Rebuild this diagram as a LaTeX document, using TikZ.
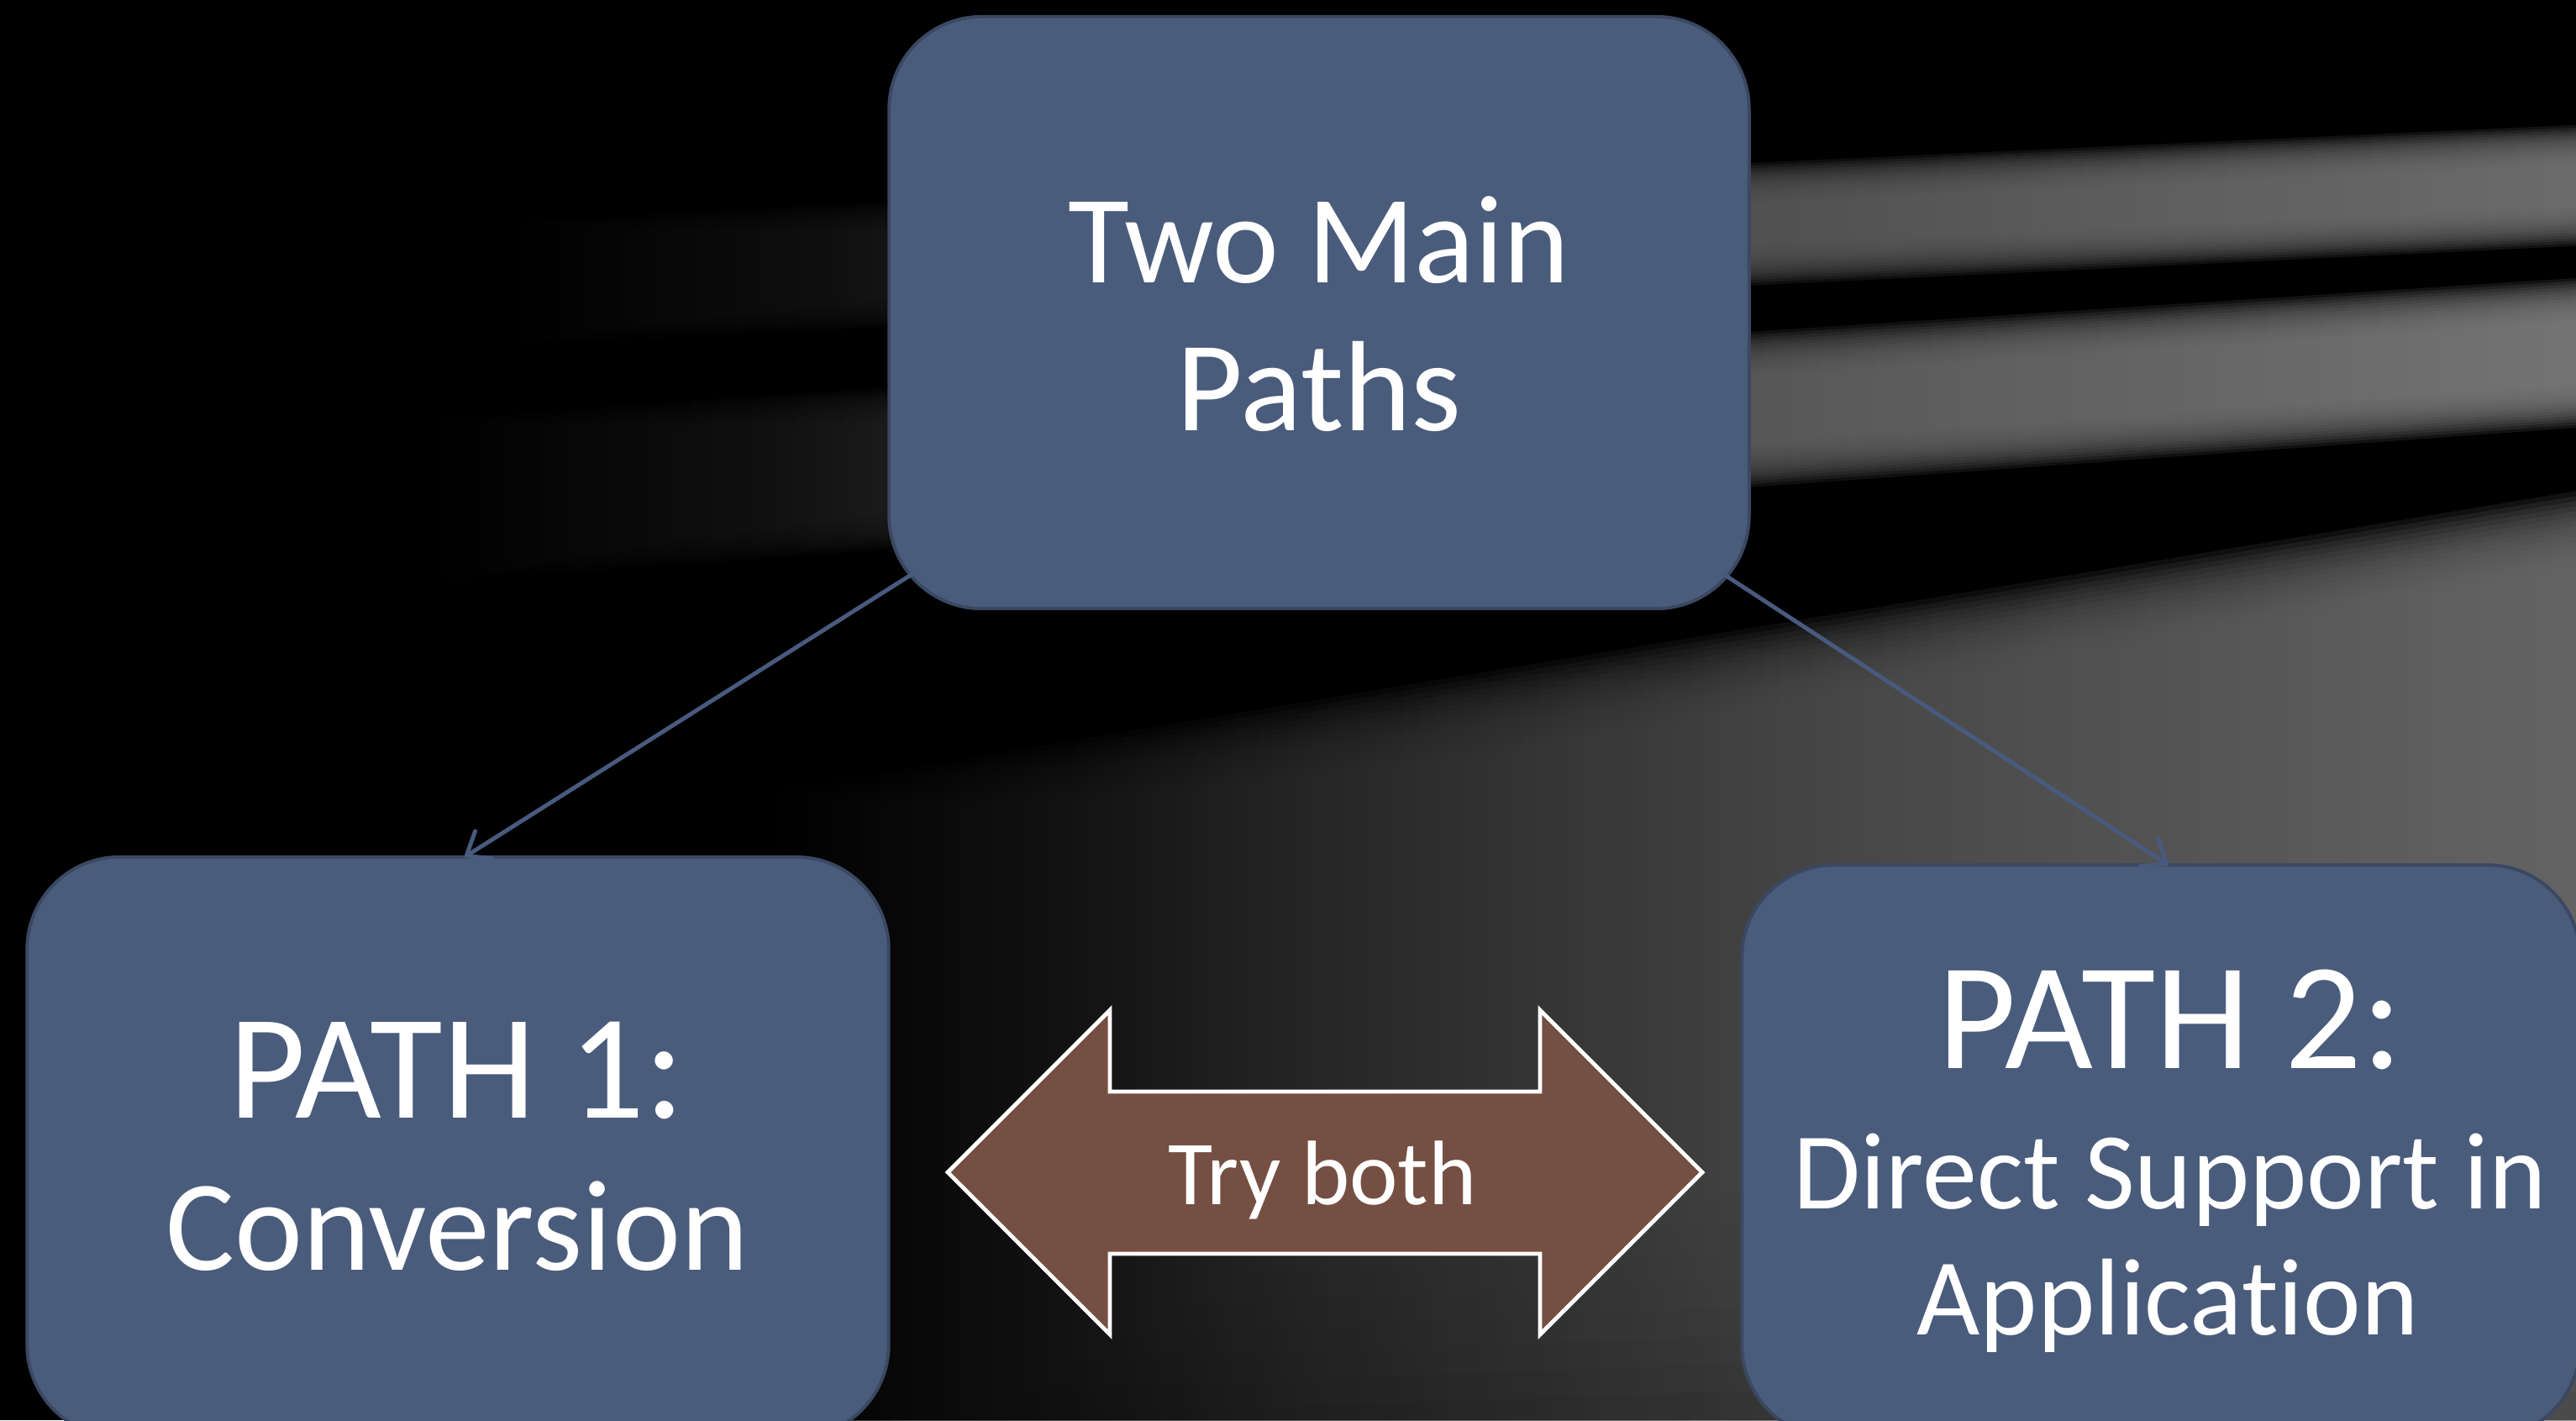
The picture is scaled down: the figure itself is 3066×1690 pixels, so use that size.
\documentclass[tikz,border=0pt]{standalone}
\usepackage{fontspec}
\setmainfont{Carlito}[Ligatures=NoCommon]
\usetikzlibrary{arrows.meta,calc}

\definecolor{boxblue}{RGB}{74,92,124}
\definecolor{boxedge}{RGB}{58,72,98}
\definecolor{linkblue}{RGB}{72,90,126}
\definecolor{arrowbrown}{RGB}{117,79,66}
\definecolor{rayA}{RGB}{118,118,118}
\definecolor{rayB}{RGB}{126,126,126}
\definecolor{rayC}{RGB}{110,110,110}

\pgfdeclarehorizontalshading{rayAsh}{100bp}{color(0bp)=(black); color(25bp)=(black); color(32.5bp)=(rayA!3!black); color(40bp)=(rayA!18!black); color(45bp)=(rayA!36!black); color(58bp)=(rayA!75!black); color(75bp)=(rayA); color(100bp)=(rayA)}
\pgfdeclarehorizontalshading{rayBsh}{100bp}{color(0bp)=(black); color(25bp)=(black); color(32.5bp)=(rayB!3!black); color(40bp)=(rayB!18!black); color(45bp)=(rayB!36!black); color(58bp)=(rayB!75!black); color(75bp)=(rayB); color(100bp)=(rayB)}
\pgfdeclarehorizontalshading{rayCsh}{100bp}{color(0bp)=(black); color(25bp)=(black); color(32.5bp)=(rayC!4!black); color(40bp)=(rayC!22!black); color(45bp)=(rayC!38!black); color(58bp)=(rayC!72!black); color(75bp)=(rayC); color(100bp)=(rayC)}

\tikzset{
  box/.style={draw=boxedge, line width=1.1pt, fill=boxblue, rounded corners=1.1cm, inner sep=0pt, outer sep=0pt},
  lbl/.style={text=white, anchor=base, inner sep=0pt, outer sep=0pt},
  conn/.style={draw=linkblue, line width=1.4pt, -{Straight Barb[length=7pt,width=11pt,round]}},
  dblarrow/.style={draw=white, line width=1.4pt, fill=arrowbrown, line join=miter},
  raylayer/.style={opacity=0.16, shading=#1}
}

\begin{document}
\begin{tikzpicture}[x=0.01cm, y=-0.01cm]
\useasboundingbox (0,0) rectangle (3066,1690);
\clip (0,0) rectangle (3066,1690);
\fill[black] (0,0) rectangle (3066,1690);

% background light rays (soft edged by stacked layers)
\foreach \k in {0,...,15}{
  % lower broad region
  \shade[raylayer=rayCsh] (500,{1010+\k*7}) -- (3080,{582+\k*6}) -- (3080,{1900-\k*35}) -- (500,{1950-\k*30}) -- cycle;
  % band B
  \shade[raylayer=rayBsh] (0,{530+\k*4}) -- (3080,{330+\k*3.5}) -- (3080,{508-\k*3.5}) -- (0,{730-\k*4}) -- cycle;
  % band A
  \shade[raylayer=rayAsh] (100,{285+\k*3.5}) -- (3080,{148+\k*3.2}) -- (3080,{292-\k*3.2}) -- (100,{435-\k*3.5}) -- cycle;
}

% boxes
\node[box, minimum width=10.23cm, minimum height=7.04cm] (top) at (1570,372) {};
\node[box, minimum width=10.25cm, minimum height=6.90cm] (left) at (545,1365) {};
\node[box, minimum width=9.97cm, minimum height=6.81cm] (right) at (2572,1370) {};

% connectors
\draw[conn] ([shift={(29,-42)}]top.south west) -- ([xshift=0.08cm]left.north);
\draw[conn] ([shift={(-32,-42)}]top.south east) -- ([xshift=0.09cm]right.north);

% double arrow
\draw[dblarrow] (1128,1395) -- (1321,1202) -- (1321,1299) -- (1833,1299) -- (1833,1202)
  -- (2026,1395) -- (1833,1588) -- (1833,1492) -- (1321,1492) -- (1321,1588) -- cycle;

% texts
\node[lbl, font=\fontsize{42.5}{50}\selectfont] (t1) at (1570,336) {Two Main};
\node[lbl, font=\fontsize{43.5}{50}\selectfont] (t2) at (1570,512) {Paths};
\node[lbl, font=\fontsize{50.5}{54}\selectfont] (p1) at (544,1330) {PATH 1:};
\node[lbl, font=\fontsize{43.7}{50}\selectfont] (c1) at (544,1511) {Conversion};
\node[lbl, font=\fontsize{51.5}{54}\selectfont] (p2) at (2583,1271) {PATH 2:};
\node[lbl, font=\fontsize{37}{42}\selectfont] (d2) at (2583,1438) {Direct Support in};
\node[lbl, font=\fontsize{37}{42}\selectfont] (a2) at (2580,1588) {Application};
\node[lbl, font=\fontsize{31}{34}\selectfont] (try) at (1574,1433) {Try both};
\end{tikzpicture}
\end{document}
